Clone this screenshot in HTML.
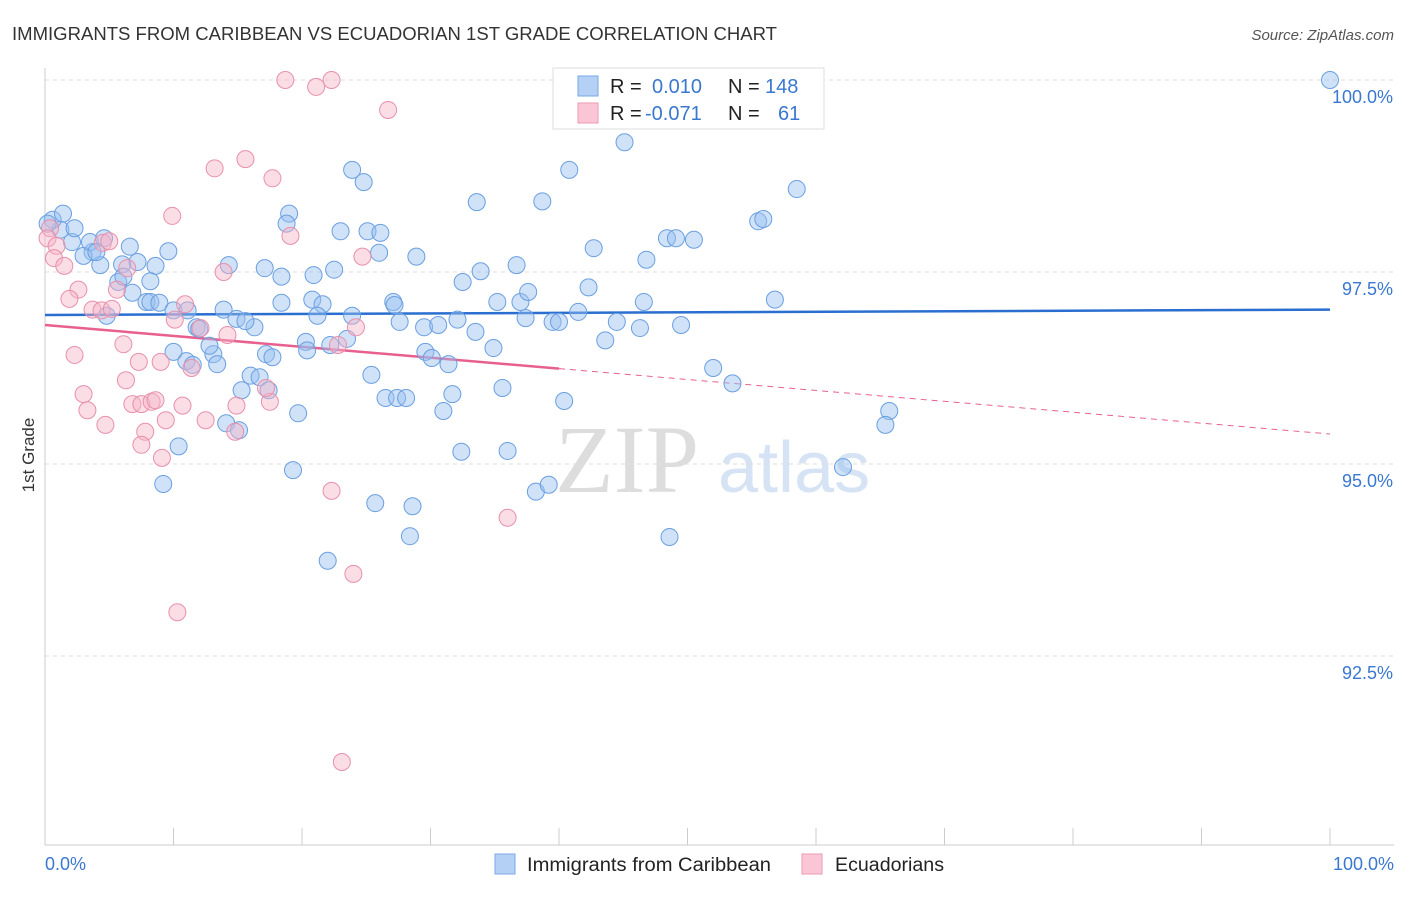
<!DOCTYPE html>
<html><head><meta charset="utf-8"><style>
body{margin:0;background:#fff;font-family:"Liberation Sans",sans-serif;}
svg text{font-family:"Liberation Sans",sans-serif;}
</style></head><body>
<svg id="chart" width="1406" height="892">
<text x="12" y="40" font-size="18" fill="#333" textLength="765" lengthAdjust="spacingAndGlyphs">IMMIGRANTS FROM CARIBBEAN VS ECUADORIAN 1ST GRADE CORRELATION CHART</text>
<text x="1394" y="40" font-size="15" fill="#555" text-anchor="end" font-style="italic">Source: ZipAtlas.com</text>
<text x="34" y="455" font-size="17" fill="#333" transform="rotate(-90 34 455)" text-anchor="middle">1st Grade</text>
<g><text x="555" y="492" font-size="96" fill="#ddd" font-family="Liberation Serif" style="font-family:'Liberation Serif',serif">ZIP</text><text x="718" y="492" font-size="72" fill="#d5e3f5">atlas</text></g>
<g id="grid"></g><g id="axes"></g><g id="lines"></g><g id="pts"></g>
<g>
<rect x="553" y="68" width="271" height="61" fill="#fff" stroke="#ddd"/>
<rect x="578" y="76" width="20" height="20" fill="#b5d0f5" stroke="#7aa8e8"/>
<rect x="578" y="103" width="20" height="20" fill="#fac5d5" stroke="#ee9ab5"/>
<text x="610" y="93" font-size="20" fill="#222">R =</text><text x="652" y="93" font-size="20" fill="#3a78d0">0.010</text>
<text x="728" y="93" font-size="20" fill="#222">N =</text><text x="765" y="93" font-size="20" fill="#3a78d0">148</text>
<text x="610" y="120" font-size="20" fill="#222">R =</text><text x="645" y="120" font-size="20" fill="#3a78d0">-0.071</text>
<text x="728" y="120" font-size="20" fill="#222">N =</text><text x="778" y="120" font-size="20" fill="#3a78d0">61</text>
</g>
<g>
<rect x="495" y="854" width="20" height="20" fill="#b5d0f5" stroke="#7aa8e8"/>
<text x="527" y="871" font-size="19" fill="#222" textLength="244" lengthAdjust="spacingAndGlyphs">Immigrants from Caribbean</text>
<rect x="802" y="854" width="20" height="20" fill="#fac5d5" stroke="#ee9ab5"/>
<text x="835" y="871" font-size="19" fill="#222" textLength="109" lengthAdjust="spacingAndGlyphs">Ecuadorians</text>
</g>
</svg>
<script>
const blue=[[100,100],[52.3,100],[45.1,99.19],[23.9,98.83],[24.8,98.67],[40.8,98.83],[58.5,98.58],[33.6,98.41],[38.7,98.42],[19.0,98.26],[18.8,98.13],[55.5,98.16],[55.9,98.19],[23.0,98.03],[25.1,98.03],[26.1,98.01],[48.4,97.94],[49.1,97.94],[50.5,97.92],[42.7,97.81],[46.8,97.66],[28.9,97.70],[26.0,97.75],[36.7,97.59],[33.9,97.51],[32.5,97.37],[22.5,97.53],[20.9,97.46],[17.1,97.55],[18.4,97.44],[14.3,97.59],[9.6,97.77],[8.6,97.58],[6.6,97.83],[7.2,97.63],[6.0,97.60],[4.3,97.59],[3.7,97.76],[3.0,97.71],[2.1,97.89],[1.2,98.05],[0.6,98.18],[0.2,98.13],[1.4,98.26],[2.3,98.07],[3.5,97.89],[4.6,97.94],[4.0,97.76],[5.7,97.37],[6.8,97.23],[7.9,97.11],[8.2,97.11],[8.9,97.10],[10.0,97.0],[11.1,97.0],[13.9,97.01],[14.9,96.89],[11.8,96.78],[12.0,96.76],[16.3,96.78],[15.6,96.86],[18.4,97.10],[20.8,97.14],[21.6,97.08],[21.2,96.93],[23.9,96.93],[27.1,97.11],[27.2,97.07],[27.6,96.85],[29.5,96.78],[30.6,96.81],[32.1,96.88],[33.5,96.72],[35.2,97.11],[37.0,97.11],[37.6,97.24],[37.4,96.90],[39.5,96.85],[40.0,96.85],[41.5,96.98],[42.3,97.30],[44.5,96.85],[46.3,96.77],[46.6,97.11],[49.5,96.81],[56.8,97.14],[43.6,96.61],[34.9,96.51],[29.6,96.46],[30.1,96.38],[31.4,96.30],[23.5,96.63],[22.2,96.55],[20.3,96.59],[20.4,96.48],[17.2,96.43],[17.7,96.39],[13.1,96.43],[13.4,96.30],[12.8,96.54],[11.0,96.34],[11.5,96.29],[10.0,96.46],[16.0,96.15],[16.7,96.13],[15.3,95.96],[17.4,95.96],[25.4,96.16],[26.5,95.86],[27.4,95.86],[28.1,95.86],[31.7,95.91],[31.0,95.69],[35.6,95.99],[40.4,95.82],[52.0,96.25],[53.5,96.05],[19.7,95.66],[14.1,95.53],[15.1,95.44],[10.4,95.23],[9.2,94.74],[19.3,94.92],[32.4,95.16],[36.0,95.17],[25.7,94.49],[28.6,94.45],[28.4,94.06],[38.2,94.64],[39.2,94.73],[48.6,94.05],[22.0,93.74],[65.7,95.69],[65.4,95.51],[62.1,94.96],[8.2,97.38],[6.1,97.44],[4.8,96.93]];
const pink=[[18.7,100],[22.3,100],[21.1,99.91],[26.7,99.61],[15.6,98.97],[13.2,98.85],[17.7,98.72],[9.9,98.23],[19.1,97.97],[0.4,98.07],[0.2,97.94],[0.9,97.84],[0.7,97.68],[1.5,97.58],[4.5,97.88],[5.0,97.90],[6.4,97.55],[5.6,97.27],[2.6,97.27],[1.9,97.15],[3.7,97.01],[4.4,97.0],[5.2,97.02],[10.9,97.08],[10.1,96.88],[12.1,96.77],[14.2,96.68],[13.9,97.50],[6.1,96.56],[7.3,96.33],[9.0,96.33],[11.4,96.25],[2.3,96.42],[6.3,96.09],[3.0,95.91],[3.3,95.70],[4.7,95.51],[6.8,95.78],[7.5,95.78],[8.3,95.81],[8.6,95.83],[10.7,95.76],[12.5,95.57],[17.5,95.81],[14.9,95.76],[14.8,95.42],[9.4,95.57],[7.8,95.42],[7.5,95.25],[9.1,95.08],[22.3,94.65],[36.0,94.30],[24.0,93.57],[10.3,93.07],[23.1,91.12],[22.8,96.55],[24.2,96.78],[24.7,97.70],[17.2,95.99]];
const yTicks=[100,97.5,95,92.5];
const yTickLabels=["100.0%","97.5%","95.0%","92.5%"];
const xTicks=[0,10,20,30,40,50,60,70,80,90,100];
const blueFit=[96.94,97.01];
const pinkFit=[96.81,95.39];
const pinkSolidEnd=40;
const X=v=>45+v*12.85, Y=v=>80+(100-v)/2.5*192;
const NS="http://www.w3.org/2000/svg";
function mk(p,t,a){const e=document.createElementNS(NS,t);for(const k in a)e.setAttribute(k,a[k]);document.getElementById(p).appendChild(e);return e;}
yTicks.forEach((t,i)=>{
 const l=mk('grid','line',{x1:45,x2:1394,y1:Y(t),y2:Y(t),stroke:'#ddd','stroke-dasharray':'4,4'});
 
 
 const tx=mk('grid','text',{x:1393,y:Y(t)+23,'font-size':18,fill:'#3a78d0','text-anchor':'end'});tx.textContent=yTickLabels[i];
 
 
});
mk('axes','line',{x1:45,x2:45,y1:68,y2:845,stroke:'#ccc'});
mk('axes','line',{x1:45,x2:1394,y1:845,y2:845,stroke:'#ccc'});
xTicks.forEach(t=>{const l=mk('axes','line',{x1:X(t),x2:X(t),y1:828,y2:845,stroke:'#ccc'});
 
 });
let a=mk('axes','text',{x:45,y:870,'font-size':18,fill:'#3a78d0'});a.textContent='0.0%';


a=mk('axes','text',{x:1394,y:870,'font-size':18,fill:'#3a78d0','text-anchor':'end'});a.textContent='100.0%';


blue.forEach(d=>{const c=mk('pts','circle',{cx:X(d[0]),cy:Y(d[1]),r:8.5,fill:'rgba(150,190,240,0.45)',stroke:'#6a9fe0','stroke-width':1});
 
 });
pink.forEach(d=>{const c=mk('pts','circle',{cx:X(d[0]),cy:Y(d[1]),r:8.5,fill:'rgba(247,180,200,0.45)',stroke:'#e890ab','stroke-width':1});
 
 });
let l=mk('lines','line',{x1:X(0),y1:Y(blueFit[0]),x2:X(100),y2:Y(blueFit[1]),stroke:'#2a6fd0','stroke-width':2.5});


const pe=pinkFit[0]+(pinkFit[1]-pinkFit[0])*pinkSolidEnd/100;
l=mk('lines','line',{x1:X(0),y1:Y(pinkFit[0]),x2:X(pinkSolidEnd),y2:Y(pe),stroke:'#e8608e','stroke-width':2.5});


l=mk('lines','line',{x1:X(pinkSolidEnd),y1:Y(pe),x2:X(100),y2:Y(pinkFit[1]),stroke:'#e8608e','stroke-width':1,'stroke-dasharray':'6,5'});


</script>
</body></html>
